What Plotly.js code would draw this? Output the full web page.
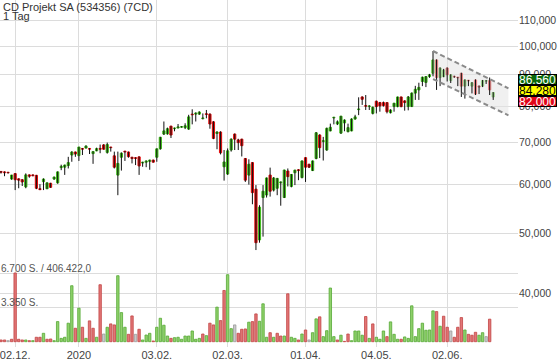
<!DOCTYPE html>
<html><head><meta charset="utf-8">
<script src="https://cdn.plot.ly/plotly-3.0.1.min.js"></script>
<style>html,body{margin:0;padding:0;background:#fff}#chart{width:560px;height:362px}</style>
</head><body><div id="chart"></div>
<script>
// ---- data ----
const firstDay = '2019-11-26';
const holidays = ['2019-12-24','2019-12-25','2019-12-26','2019-12-31','2020-01-01','2020-04-10','2020-04-13','2020-05-01','2020-06-01'];

const open = [62900,62800,62700,61150,62400,61200,61000,59400,62100,62100,62000,59000,60550,59000,60200,61150,60300,63800,63900,64300,
66850,67600,66700,68500,68600,68500,67200,67900,68500,69400,67500,68850,66650,62060,66300,67800,67600,66300,66200,66400,
64900,65100,65300,65600,66300,68400,72250,72300,74400,73700,73900,74100,74000,73600,77800,77800,77800,76500,77900,77800,
75600,72400,72800,64000,62300,68100,72250,70700,70900,66000,62060,65000,58900,48800,57100,57640,62060,58700,59100,60300,
57100,63000,59500,62600,63300,61500,66200,64600,63100,66000,72000,70300,68100,73100,76700,75000,72500,75300,72900,73100,
76400,79100,82900,80300,80000,78000,81600,81200,81200,81200,78200,80000,80000,82900,81700,80000,80000,84100,85100,87800,
87500,89400,90500,95100,89100,89400,92300,88100,89500,89200,90500,86300,88200,86300,88300,86300,86300,87900,88100,82900];
const high = [63000,62900,62800,62100,62500,61300,61100,62450,62200,62200,62100,60000,61300,60400,60300,61700,62900,64500,64500,66400,
67800,67700,68900,68600,69300,68600,67800,68700,69500,69600,70000,68900,67700,67700,67500,67900,67700,66400,66300,66500,
65200,65500,65700,65700,68500,71500,75700,74000,74500,74000,75000,74400,75200,77600,79200,78300,78600,78000,79000,78000,
75800,73000,73000,68100,68500,71100,72400,71000,71000,66100,65800,65100,59800,55500,59800,61500,63800,61600,61400,60600,
63300,63600,62300,63300,63400,65500,66300,64700,65500,72800,72200,71500,74000,75100,77000,76000,77300,76300,75100,76600,
77600,82800,83100,83500,80400,80000,81800,81400,81500,81300,79200,81100,83000,83000,81900,83200,84300,86400,87400,89400,
89600,90300,98300,95300,92500,92000,92500,90200,89700,89300,90700,88500,88300,87600,88500,86500,88300,88300,89100,84400];
const low = [62400,61800,62400,61000,58700,59100,59600,59100,61450,61800,58900,58700,58700,58900,59200,61000,60100,63200,62100,63600,
65200,66400,65400,66850,68500,67100,64700,67800,67300,68200,67200,67700,63600,57600,63100,65400,66200,64800,64400,62100,
64000,63900,63300,65000,65200,68200,72000,72100,71200,73000,73800,74000,73600,73400,74900,75700,77600,76300,76600,73700,
70900,68300,67000,60800,62100,67700,68100,68100,66500,60500,59900,55700,47000,48300,49400,57100,57300,58400,57600,55400,
57000,59500,59300,59800,60900,61300,60500,63700,63000,65800,66100,65500,67900,73000,74900,74700,72300,73000,72700,73000,
76200,77500,80500,79000,79000,77700,78000,78500,80000,78000,78000,78500,79800,79800,78800,78900,79900,82000,82000,86300,
86000,89000,89500,85100,86300,89200,87800,87300,89000,86300,82900,82400,86300,84000,83500,83800,86000,87000,83500,82000];
const close = [62700,62600,62600,62060,61000,60900,60500,62100,61800,61900,59100,58800,61150,60300,59300,61600,62800,64100,64400,65000,
67600,67100,68850,68300,69100,68300,67700,68450,68300,68300,69500,68700,63900,64800,67300,67600,66450,66000,66000,64200,
65100,65400,65600,65100,68400,71400,73100,73700,72000,73900,74200,74300,74500,77000,77600,78100,78400,76700,77700,75000,
71100,72800,67400,65150,67900,70900,70900,70000,69200,60900,64600,58150,48300,55100,58450,61400,58460,61400,61300,60500,
63230,61700,62200,63200,63100,65400,63900,63900,65400,72600,68700,70500,73800,74100,76900,75600,77200,76100,74000,76400,
77000,79300,82200,80100,80200,79800,80000,80200,80300,78500,79000,81000,82900,80000,81200,82900,84100,85300,85900,89200,
89400,90000,95100,89100,92300,91600,90000,90000,89300,89000,86300,88300,88000,87400,83800,86000,88100,88100,85100,84280];
const volume = [170,170,100,240,6800,240,170,170,100,100,440,440,830,240,270,100,1990,330,440,1830,
5540,1330,3320,1430,330,2060,1330,440,5640,760,1430,1760,1660,6530,2880,1430,730,2550,730,1230,
170,660,830,70,1430,2320,1630,560,330,400,440,240,560,560,1060,240,330,760,600,1830,
1660,3420,2090,5070,6630,1290,1660,830,1230,1260,1930,1990,2750,2020,3750,440,890,440,830,560,
560,4740,440,330,170,760,1160,170,890,2260,2460,500,1090,5310,500,170,640,30,760,100,
1060,1060,640,2490,330,1760,440,240,1060,500,1960,730,240,240,470,330,3550,500,1290,1830,
1130,1160,3050,2980,1530,2520,1430,1060,440,1430,2390,1160,730,640,930,640,890,500,2230,null];

const tickDates = ['2019-12-02','2020-01-02','2020-02-03','2020-03-02','2020-04-01','2020-05-04','2020-06-02'];
const tickLabels = ['02.12.','2020','03.02.','02.03.','01.04.','04.05.','02.06.'];
const priceTicks = [40000,50000,60000,70000,80000,90000,100000,110000];
const volumeTicks = [3350,6700];
// trend channel (bar index, price)
const channelX = [122, 143.3];
const channelUpper = [98300, 85600];
const channelLower = [88600, 77450];
const quoteTexts = ['86,560','84,280','82,000'];
const quoteValues = [86560,84280,82000];

// ---- trading calendar ----
const dates = [];
{
  let d = new Date(firstDay + 'T00:00:00Z');
  while (dates.length < close.length) {
    const s = d.toISOString().slice(0,10);
    const wd = d.getUTCDay();
    if (wd !== 0 && wd !== 6 && holidays.indexOf(s) < 0) dates.push(s);
    d = new Date(d.getTime() + 86400000);
  }
}
const idx = dates.map((_, i) => i);
const tickVals = tickDates.map(t => dates.indexOf(t));

const GREEN = '#3cb819', RED = '#e00a0a';

// wicks
const wx = [], wy = [];
idx.forEach(i => { wx.push(i, i, null); wy.push(low[i], high[i], null); });

// bodies
const bBase = idx.map(i => Math.min(open[i], close[i]));
const bSize = idx.map(i => Math.max(Math.abs(close[i] - open[i]), 1));
const bCol = idx.map(i => close[i] >= open[i] ? GREEN : RED);

// volume colors: vs previous close
const vFill = [], vLine = [];
idx.forEach(i => {
  const prev = i > 0 ? close[i-1] : open[i];
  if (close[i] > prev) { vFill.push('#90d26c'); vLine.push('#56a835'); }
  else if (close[i] < prev) { vFill.push('#e27676'); vLine.push('#c24444'); }
  else { vFill.push('#c9c9c9'); vLine.push('#9a9a9a'); }
});

const FONT = 'Liberation Sans, Arial, sans-serif';

const traces = [
  { type:'scatter', x:[channelX[0], channelX[1], channelX[1], channelX[0]],
    y:[channelUpper[0], channelUpper[1], channelLower[1], channelLower[0]],
    fill:'toself', fillcolor:'rgba(228,228,228,0.55)', line:{width:0}, mode:'lines', hoverinfo:'skip', yaxis:'y' },
  { type:'bar', x:idx, y:volume, yaxis:'y2', width:0.68,
    marker:{color:vFill, line:{color:vLine, width:0.8}}, hoverinfo:'skip' },
  { type:'scatter', mode:'lines', x:wx, y:wy, line:{color:'#111', width:1}, hoverinfo:'skip', yaxis:'y' },
  { type:'bar', x:idx, y:bSize, base:bBase, width:0.62, yaxis:'y',
    marker:{color:bCol, line:{color:bCol, width:1}}, hoverinfo:'skip' },
  { type:'scatter', mode:'lines', x:channelX, y:channelUpper, line:{color:'#8a8a8a', width:2, dash:'5px,3px'}, hoverinfo:'skip' },
  { type:'scatter', mode:'lines', x:channelX, y:channelLower, line:{color:'#8a8a8a', width:2, dash:'5px,3px'}, hoverinfo:'skip' }
];

const boxStyles = [
  {bg:'#0b6a0b', fg:'#ffffff', shift:6},
  {bg:'#ffff00', fg:'#000000', shift:2},
  {bg:'#e0061a', fg:'#ffffff', shift:-1.5}
];

const annotations = [
  { text:'CD Projekt SA (534356) (7CD)', xref:'paper', yref:'paper', x:0, y:1, xanchor:'left', yanchor:'top',
    showarrow:false, font:{family:FONT, size:11, color:'#333'}, xshift:1, yshift:1 },
  { text:'1 Tag', xref:'paper', yref:'paper', x:0, y:1, xanchor:'left', yanchor:'top',
    showarrow:false, font:{family:FONT, size:11, color:'#333'}, xshift:1, yshift:-8 },
  { text:'6.700 S. / 406.422,0', xref:'paper', yref:'y2', x:0, y:volumeTicks[1], xanchor:'left', yanchor:'bottom',
    showarrow:false, font:{family:FONT, size:10, color:'#555'}, xshift:-1, yshift:-2 },
  { text:'3.350 S.', xref:'paper', yref:'y2', x:0, y:volumeTicks[0], xanchor:'left', yanchor:'bottom',
    showarrow:false, font:{family:FONT, size:10, color:'#555'}, xshift:-1, yshift:-2 }
];
quoteTexts.forEach((t, k) => {
  annotations.push({ text:t, xref:'paper', yref:'y', x:1, y:Math.log10(quoteValues[k]), xanchor:'left', yanchor:'middle',
    showarrow:false, bgcolor:boxStyles[k].bg, bordercolor:'#000', borderwidth:1, borderpad:0, width:37, height:9,
    font:{family:FONT, size:12, color:boxStyles[k].fg}, yshift:boxStyles[k].shift });
});

const layout = {
  width:560, height:362,
  margin:{l:0, r:42, t:0, b:15, pad:0},
  paper_bgcolor:'#fff', plot_bgcolor:'#fff',
  showlegend:false, hovermode:false, barmode:'overlay',
  font:{family:FONT, size:11, color:'#444'},
  xaxis:{ type:'linear', range:[-0.28, 146.0], tickvals:tickVals, ticktext:tickLabels,
    showgrid:true, gridcolor:'#dcdcdc', gridwidth:1, zeroline:false, showline:false, ticks:'',
    ticklabeloverflow:'allow', tickfont:{family:FONT, size:11, color:'#444'}, fixedrange:true },
  yaxis:{ type:'log', side:'right', range:[4.516, 5.0747], tickvals:priceTicks, tickformat:',d',
    showgrid:true, gridcolor:'#dcdcdc', gridwidth:1, zeroline:false, showline:false,
    ticks:'', ticklabeloverflow:'allow', ticklabelstandoff:0,
    tickfont:{family:FONT, size:10.5, color:'#444'}, fixedrange:true },
  yaxis2:{ overlaying:'y', side:'left', range:[-525, 33816], tickvals:volumeTicks, showticklabels:false,
    showgrid:true, gridcolor:'#dcdcdc', gridwidth:1, zeroline:false, showline:false, ticks:'', fixedrange:true },
  annotations: annotations
};

Plotly.newPlot('chart', traces, layout, {displayModeBar:false, staticPlot:true});
</script>
</body></html>
